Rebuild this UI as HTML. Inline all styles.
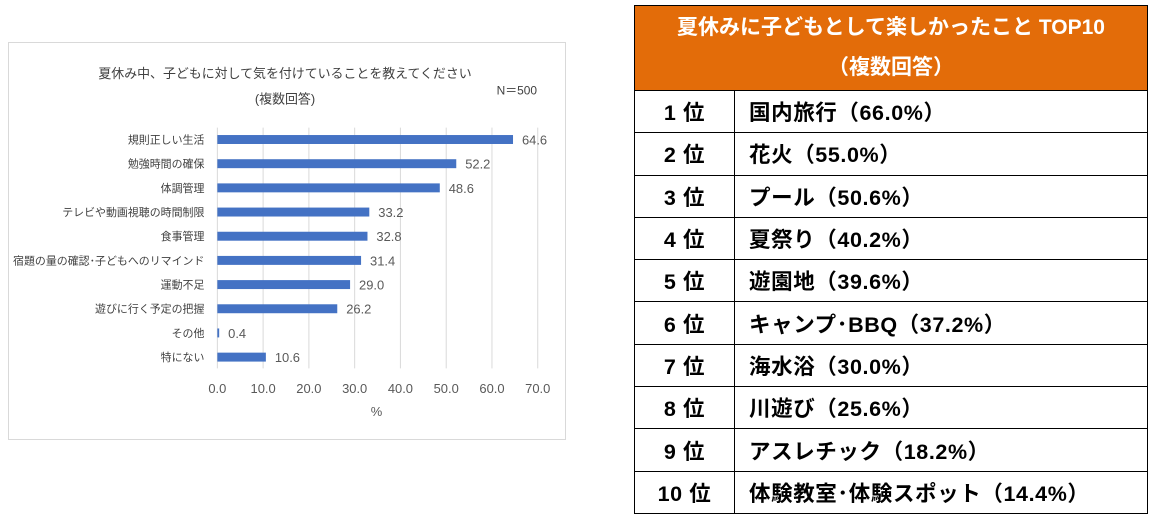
<!DOCTYPE html>
<html><head><meta charset="utf-8"><style>
body{margin:0;width:1160px;height:519px;background:#fff;position:relative;overflow:hidden;font-family:"Liberation Sans","Noto Sans CJK JP",sans-serif}
#chart{position:absolute;left:8px;top:42px;width:558px;height:398px;border:1px solid #d9d9d9;box-sizing:border-box}
table{position:absolute;left:634px;top:5px;width:514px;border-collapse:collapse}
td{border:1px solid #000;font-weight:bold;font-size:21.5px;letter-spacing:0.6px;color:#000;height:42.3px;padding:0;box-sizing:border-box}
th{background:#e36c09;color:#fff;font-size:21px;height:85px;border:1px solid #000;line-height:40px;font-weight:bold;padding:0;box-sizing:border-box}
td.r{text-align:center;width:100px}
td.n{padding-left:14px}
</style></head><body>
<svg id="chart" width="558" height="398" viewBox="8 42 558 398" style="position:absolute;left:8px;top:42px"></svg>
<table>
<tr><th colspan="2">夏休みに子どもとして楽しかったこと TOP10<br>（複数回答）</th></tr>
<tr><td class="r">1 位</td><td class="n">国内旅行（66.0%）</td></tr>
<tr><td class="r">2 位</td><td class="n">花火（55.0%）</td></tr>
<tr><td class="r">3 位</td><td class="n">プール（50.6%）</td></tr>
<tr><td class="r">4 位</td><td class="n">夏祭り（40.2%）</td></tr>
<tr><td class="r">5 位</td><td class="n">遊園地（39.6%）</td></tr>
<tr><td class="r">6 位</td><td class="n">キャンプ･BBQ（37.2%）</td></tr>
<tr><td class="r">7 位</td><td class="n">海水浴（30.0%）</td></tr>
<tr><td class="r">8 位</td><td class="n">川遊び（25.6%）</td></tr>
<tr><td class="r">9 位</td><td class="n">アスレチック（18.2%）</td></tr>
<tr><td class="r">10 位</td><td class="n">体験教室･体験スポット（14.4%）</td></tr>
</table>
<script>
const categories=["規則正しい生活","勉強時間の確保","体調管理","テレビや動画視聴の時間制限","食事管理","宿題の量の確認･子どもへのリマインド","運動不足","遊びに行く予定の把握","その他","特にない"];
const values=[64.6,52.2,48.6,33.2,32.8,31.4,29.0,26.2,0.4,10.6];
const ticks=[0,10,20,30,40,50,60,70];
const svg=document.getElementById('chart');
const NS='http://www.w3.org/2000/svg';
const x=v=>217+v*4.6;
const y=i=>139+i*24.3;
function mk(t,a,txt){const e=document.createElementNS(NS,t);for(const k in a)e.setAttribute(k,a[k]);if(txt!=null)e.textContent=txt;svg.appendChild(e);return e;}
let e;
e=mk('text',{x:285,y:77,'font-size':13,fill:'#404040','text-anchor':'middle'},'夏休み中、子どもに対して気を付けていることを教えてください');


e=mk('text',{x:285,y:103,'font-size':13,fill:'#404040','text-anchor':'middle'},'(複数回答)');


e=mk('text',{x:518,y:94,'font-size':12,fill:'#404040','text-anchor':'middle'},'N＝500');


ticks.forEach(t=>{
 e=mk('line',{x1:x(t),x2:x(t),y1:127,y2:369,stroke:'#d9d9d9','stroke-width':1});
 
 
 e=mk('text',{x:x(t),y:394,'font-size':13,fill:'#595959','text-anchor':'middle'},t.toFixed(1));
 
 
});
e=mk('text',{x:377,y:417,'font-size':13,fill:'#595959','text-anchor':'middle'},'%');


categories.forEach((c,i)=>{
 e=mk('text',{x:204,y:y(i)+4,'font-size':11,fill:'#404040','text-anchor':'end'},c);
 
 
 e=mk('rect',{x:x(0),y:y(i)-4.5,width:Math.max(values[i]*4.6,1),height:9,fill:'#4472c4'});
 
 
 e=mk('text',{x:x(values[i])+9,y:y(i)+5,'font-size':13,fill:'#595959'},values[i].toFixed(1));
 
 
});
</script>
</body></html>
